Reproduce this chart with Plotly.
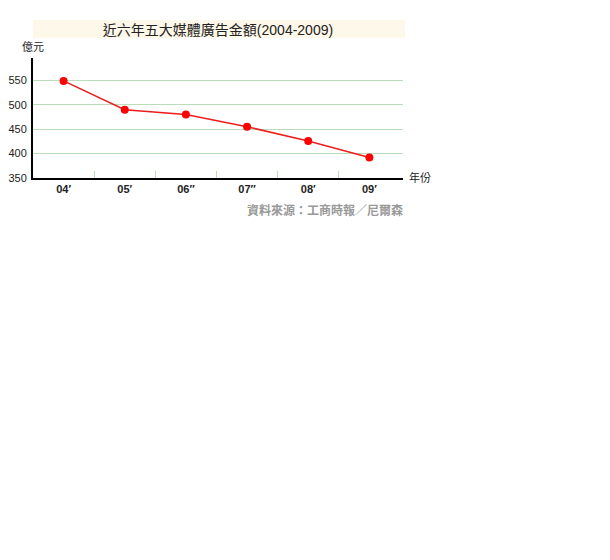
import plotly.graph_objects as go

years = ["04′", "05′", "06″", "07″", "08′", "09′"]
values = [549, 490, 480, 455, 426, 392]
y_ticks = [350, 400, 450, 500, 550]

title = "近六年五大媒體廣告金額(2004-2009)"
y_unit = "億元"
x_unit = "年份"
source = "資料來源：工商時報／尼爾森"

CJK = "Liberation Sans, Noto Sans CJK TC, sans-serif"
xs = list(range(len(years)))

OFF = 8  # page body margin
W, H = 610 - OFF, 560 - OFF
L, T = 33 - OFF, 58 - OFF
PW, PH = 370, 120

fig = go.Figure()
fig.add_trace(go.Scatter(
    x=xs, y=values, mode="lines+markers",
    line=dict(color="#ee1c1c", width=1.5),
    marker=dict(color="#ff0000", size=8),
    showlegend=False, hoverinfo="skip",
))

def py(pix):
    # reference pixel y -> paper y
    return (178 - pix) / PH

def px(pix):
    return (pix - 33) / PW

fig.update_layout(
    width=W, height=H, autosize=False,
    margin=dict(l=L, r=W - L - PW, t=T, b=H - T - PH, autoexpand=False),
    paper_bgcolor="white", plot_bgcolor="white",
    font=dict(family=CJK, color="#222"),
    xaxis=dict(
        range=[-0.5, 5.55], tickvals=xs, ticktext=["<b>" + y + "</b>" for y in years],
        showgrid=False, zeroline=False,
        showline=True, linecolor="#000", linewidth=2,
        ticks="", tickfont=dict(size=11, color="#222"),
        minor=dict(tickvals=[0.5, 1.5, 2.5, 3.5, 4.5], ticks="inside",
                   ticklen=7, tickcolor="#b8ddb8", tickwidth=1, showgrid=False),
        fixedrange=True, automargin=False,
    ),
    yaxis=dict(
        range=[350, 596], tickvals=y_ticks,
        showgrid=True, gridcolor="#b8ddb8", gridwidth=1,
        zeroline=False, showline=True, linecolor="#000", linewidth=2,
        ticks="", ticklabelstandoff=2, tickfont=dict(size=11, color="#222"),
        fixedrange=True, automargin=False,
    ),
    title=dict(text=title, x=(218 - OFF) / W, xanchor="center",
               y=1 - (30 - OFF) / H, yanchor="middle",
               font=dict(size=14, color="#222", family=CJK)),
    shapes=[dict(type="rect", xref="paper", yref="paper",
                 x0=0, x1=px(405), y0=py(38), y1=py(20),
                 fillcolor="#fdf8e9", line=dict(width=0), layer="below")],
    annotations=[
        dict(text=y_unit, xref="paper", yref="paper", x=0, y=py(47),
             xanchor="center", yanchor="middle", showarrow=False,
             font=dict(size=11, color="#222")),
        dict(text=x_unit, xref="paper", yref="paper", x=px(420), y=py(177),
             xanchor="center", yanchor="middle", showarrow=False,
             font=dict(size=11, color="#222")),
        dict(text="<b>" + source + "</b>", xref="paper", yref="paper", x=px(405),
             y=py(210), xanchor="right", yanchor="middle", showarrow=False,
             font=dict(size=12, color="#999")),
    ],
)

fig.write_html("out.html")
